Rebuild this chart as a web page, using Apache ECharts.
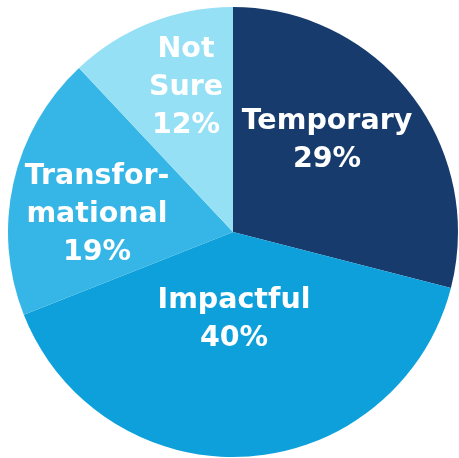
<!DOCTYPE html>
<html><head><meta charset="utf-8">
<script src="https://cdn.jsdelivr.net/npm/echarts@6/dist/echarts.min.js"></script>
<style>html,body{margin:0;padding:0;background:#fff}#c{width:459px;height:458px}</style>
</head><body><div id="c"></div>
<script>
const categories = ['Temporary', 'Impactful', 'Transformational', 'Not Sure'];
const labelTexts = ['Temporary', 'Impactful', 'Transfor-\nmational', 'Not\nSure'];
const values = [29, 40, 19, 12];
const colors = ['#173B6D', '#0EA0DB', '#36B6E6', '#96E0F5'];
const labelPos = [[327, 141], [234, 320], [97, 215], [186, 88]];

const chart = echarts.init(document.getElementById('c'));
chart.setOption({
  animation: false,
  series: [{
    type: 'pie',
    center: [233, 232],
    radius: 225,
    startAngle: 90,
    clockwise: true,
    data: categories.map((n, i) => ({name: n, value: values[i], itemStyle: {color: colors[i]}})),
    label: {
      show: true,
      position: 'inside',
      formatter: p => labelTexts[p.dataIndex] + '\n' + p.value + '%',
      color: '#fff',
      fontFamily: 'DejaVu Sans',
      fontWeight: 'bold',
      fontSize: 28.5,
      lineHeight: 38,
      align: 'center'
    },
    labelLayout: p => ({x: labelPos[p.dataIndex][0], y: labelPos[p.dataIndex][1], align: 'center', verticalAlign: 'middle'}),
    labelLine: {show: false},
    emphasis: {disabled: true}
  }]
});
</script></body></html>
